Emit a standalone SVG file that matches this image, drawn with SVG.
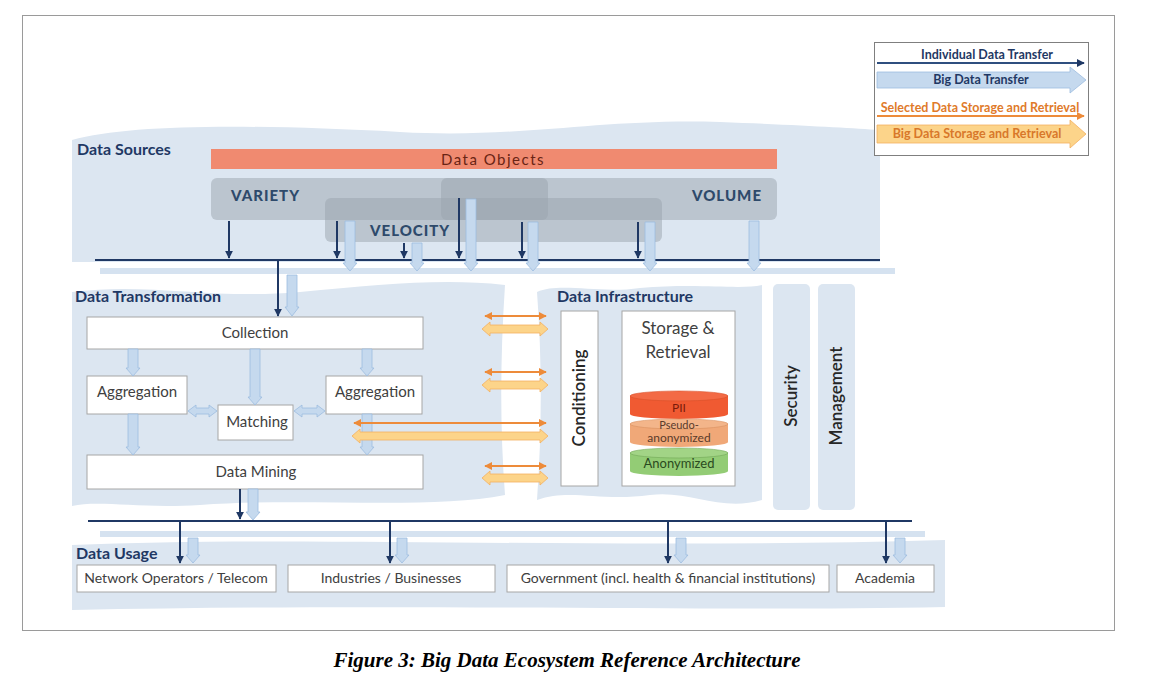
<svg xmlns="http://www.w3.org/2000/svg" width="1155" height="680" viewBox="0 0 1155 680">
<defs>
<style>
.band{fill:#dce6f1}
.hdr{font-family:Lato,"Liberation Sans",sans-serif;font-weight:bold;font-size:16px;fill:#1f3864}
.box{fill:#fff;stroke:#a6a6a6;stroke-width:1}
.lbl{font-family:Lato,"Liberation Sans",sans-serif;font-size:15px;fill:#404040;text-anchor:middle}
.ulbl{font-family:Lato,"Liberation Sans",sans-serif;font-size:14px;fill:#404040;text-anchor:middle}
.nav{stroke:#1f3864;stroke-width:2;fill:none}
.navA{stroke:#1f3864;stroke-width:2;fill:none;marker-end:url(#nh)}
.big{fill:#c5d9ee;stroke:#9dbde0;stroke-width:0.8}
.gbox{fill:#9aa4ad;fill-opacity:0.5}
.vv{font-family:Lato,"Liberation Sans",sans-serif;font-weight:900;font-size:15px;fill:#2e4a6b;letter-spacing:1px}
.or{stroke:#ed8b3a;stroke-width:2;fill:none;marker-end:url(#oh);marker-start:url(#ohs)}
.obig{fill:#fcd48a;stroke:#f4b060;stroke-width:0.8}
.col{fill:#dce6f1}
.leg{font-family:Lato,"Liberation Sans",sans-serif;font-weight:bold;font-size:12.5px;text-anchor:middle}
</style>
<marker id="nh" viewBox="0 0 10 10" refX="9" refY="5" markerWidth="4" markerHeight="4" orient="auto" markerUnits="strokeWidth"><path d="M0,0 L10,5 L0,10 Z" fill="#1f3864"/></marker>
<marker id="oh" viewBox="0 0 10 10" refX="9" refY="5" markerWidth="4" markerHeight="4" orient="auto" markerUnits="strokeWidth"><path d="M0,0 L10,5 L0,10 Z" fill="#ed8b3a"/></marker>
<marker id="ohs" viewBox="0 0 10 10" refX="1" refY="5" markerWidth="4" markerHeight="4" orient="auto" markerUnits="strokeWidth"><path d="M10,0 L0,5 L10,10 Z" fill="#ed8b3a"/></marker>
</defs>

<rect x="0" y="0" width="1155" height="680" fill="#fff"/>
<rect x="22.5" y="15.5" width="1092" height="615" fill="#fff" stroke="#9a9a9a" stroke-width="1"/>

<!-- background bands -->
<g id="bands">
<path class="band" d="M72,140 C 130,124 250,124 400,132 C 520,139 600,118 720,122 C 800,125 850,128 880,130 L 880,262 L 72,262 Z"/>
<path class="band" d="M72,292 C 150,282 210,300 300,292 C 380,285 440,278 505,285 C 500,360 500,430 505,495 C 430,510 300,497 200,505 C 140,509 100,500 72,506 Z"/>
<path class="band" d="M537,292 C 560,282 600,294 640,288 C 700,283 740,290 762,285 L 762,500 C 720,512 690,490 650,495 C 600,502 570,488 537,500 C 542,430 542,360 537,292 Z"/>
<path class="band" d="M72,545 C 300,535 600,550 945,540 L 945,607 C 700,612 400,603 72,610 Z"/>
</g>

<!-- Data Sources -->
<g id="data-sources">
<text class="hdr" x="77" y="155">Data Sources</text>
<rect x="211" y="149" width="566" height="20" fill="#f08a70"/>
<text x="493" y="165" font-family="Lato,'Liberation Sans',sans-serif" font-size="15" fill="#6a2414" text-anchor="middle" letter-spacing="1.5">Data Objects</text>
<rect class="gbox" x="211" y="178" width="566" height="42" rx="6"/>
<rect class="gbox" x="441" y="178" width="107" height="42" rx="6"/>
<rect class="gbox" x="325" y="198" width="337" height="44" rx="6"/>
<text class="vv" x="231" y="201">VARIETY</text>
<text class="vv" x="762" y="201" text-anchor="end">VOLUME</text>
<text class="vv" x="370" y="236">VELOCITY</text>
</g>

<!-- Data Transformation -->
<g id="data-transformation">
<text class="hdr" x="75" y="302">Data Transformation</text>
<g id="collection"><rect class="box" x="87" y="317" width="336" height="32"/><text class="lbl" x="255" y="338">Collection</text></g>
<g id="aggregation-left"><rect class="box" x="87" y="376" width="100" height="38"/><text class="lbl" x="137" y="397">Aggregation</text></g>
<g id="matching"><rect class="box" x="218" y="405" width="75" height="35"/><text class="lbl" x="257" y="427">Matching</text></g>
<g id="aggregation-right"><rect class="box" x="326" y="376" width="96" height="38"/><text class="lbl" x="375" y="397">Aggregation</text></g>
<g id="data-mining"><rect class="box" x="87" y="455" width="336" height="34"/><text class="lbl" x="256" y="477">Data Mining</text></g>
</g>

<!-- Data Infrastructure -->
<g id="data-infrastructure">
<text class="hdr" x="557" y="302">Data Infrastructure</text>
<g id="conditioning"><rect class="box" x="561" y="311" width="37" height="175"/><text class="lbl" transform="translate(585,398) rotate(-90)" style="font-size:17px;fill:#262626;font-weight:600">Conditioning</text></g>
<g id="storage"><rect class="box" x="622" y="311" width="113" height="175"/>
<text class="lbl" x="678" y="334" style="font-size:17px">Storage &amp;</text>
<text class="lbl" x="678" y="358" style="font-size:17px">Retrieval</text>
<g id="pii"><path d="M630,396 L630,414 A49,5 0 0 0 728,414 L728,396 Z" fill="#f05a32"/><ellipse cx="679" cy="396" rx="49" ry="5" fill="#f36a45" stroke="#d8502a" stroke-width="0.6"/><text class="ulbl" x="679" y="412" style="font-size:12px;fill:#7a1a0a">PII</text></g>
<g id="pseudo"><path d="M630,424 L630,442 A49,5 0 0 0 728,442 L728,424 Z" fill="#f0a878"/><ellipse cx="679" cy="424" rx="49" ry="5" fill="#f3b58a" stroke="#d89060" stroke-width="0.6"/><text class="ulbl" x="679" y="429" style="font-size:11px;fill:#5a3a2a">Pseudo-</text><text class="ulbl" x="679" y="442" style="font-size:12px;fill:#5a3a2a">anonymized</text></g>
<g id="anonymized"><path d="M630,453 L630,471 A49,5 0 0 0 728,471 L728,453 Z" fill="#93cc75"/><ellipse cx="679" cy="453" rx="49" ry="5" fill="#a2d486" stroke="#72a858" stroke-width="0.6"/><text class="ulbl" x="679" y="468" style="font-size:13px;fill:#2a4a20">Anonymized</text></g>
</g>
</g>

<g id="security"><rect class="col" x="773" y="284" width="37" height="226" rx="5"/><text class="lbl" transform="translate(797,396) rotate(-90)" style="font-size:17px;fill:#262626;font-weight:600">Security</text></g>
<g id="management"><rect class="col" x="818" y="284" width="37" height="226" rx="5"/><text class="lbl" transform="translate(842,396) rotate(-90)" style="font-size:17px;fill:#262626;font-weight:600">Management</text></g>

<!-- Data Usage -->
<g id="data-usage">
<text class="hdr" x="76" y="559">Data Usage</text>
<g id="telecom"><rect class="box" x="77" y="565" width="199" height="27"/><text class="ulbl" x="176" y="583">Network Operators / Telecom</text></g>
<g id="industries"><rect class="box" x="288" y="565" width="207" height="27"/><text class="ulbl" x="391" y="583">Industries / Businesses</text></g>
<g id="government"><rect class="box" x="507" y="565" width="322" height="27"/><text class="ulbl" x="668" y="583">Government (incl. health &amp; financial institutions)</text></g>
<g id="academia"><rect class="box" x="837" y="565" width="97" height="27"/><text class="ulbl" x="885" y="583">Academia</text></g>
</g>

<!-- connectors -->
<g id="connectors">
<line class="nav" x1="95" y1="260" x2="880" y2="260"/>
<rect x="100" y="268" width="795" height="6" fill="#d5e2f0"/>
<line class="navA" x1="229" y1="221" x2="229" y2="258"/>
<line class="navA" x1="337" y1="221" x2="337" y2="258"/>
<line class="navA" x1="404" y1="243" x2="404" y2="258"/>
<line class="navA" x1="459" y1="198" x2="459" y2="258"/>
<line class="navA" x1="522" y1="222" x2="522" y2="258"/>
<line class="navA" x1="638" y1="222" x2="638" y2="258"/>
<polygon class="big" points="345,221 355,221 355,263 357,263 350,271 343,263 345,263"/>
<polygon class="big" points="412,243 422,243 422,263 424,263 417,271 410,263 412,263"/>
<polygon class="big" points="466,199 476,199 476,263 478,263 471,271 464,263 466,263"/>
<polygon class="big" points="528,222 538,222 538,263 540,263 533,271 526,263 528,263"/>
<polygon class="big" points="645,222 655,222 655,263 657,263 650,271 643,263 645,263"/>
<polygon class="big" points="749,221 759,221 759,263 761,263 754,271 747,263 749,263"/>
<line class="navA" x1="278" y1="260" x2="278" y2="316"/>
<polygon class="big" points="287,275 297,275 297,307 299,307 292,316 285,307 287,307"/>
<polygon class="big" points="128,349 138,349 138,368 140,368 133,376 126,368 128,368"/>
<polygon class="big" points="250,349 260,349 260,397 262,397 255,405 248,397 250,397"/>
<polygon class="big" points="362,349 372,349 372,368 374,368 367,376 360,368 362,368"/>
<polygon class="big" points="128,414 138,414 138,447 140,447 133,455 126,447 128,447"/>
<polygon class="big" points="362,414 372,414 372,447 374,447 367,455 360,447 362,447"/>
<polygon class="big" points="188,411 196,405 196,408 209,408 209,405 217,411 209,417 209,414 196,414 196,417"/>
<polygon class="big" points="294,411 302,405 302,408 317,408 317,405 325,411 317,417 317,414 302,414 302,417"/>
<line class="or" x1="485" y1="316" x2="546" y2="316"/>
<polygon class="obig" points="482,329 490,322 490,325 540,325 540,322 548,329 540,336 540,333 490,333 490,336"/>
<line class="or" x1="485" y1="372" x2="546" y2="372"/>
<polygon class="obig" points="482,385 490,378 490,381 540,381 540,378 548,385 540,392 540,389 490,389 490,392"/>
<line class="or" x1="354" y1="423" x2="546" y2="423"/>
<polygon class="obig" points="352,436 360,429 360,432 540,432 540,429 548,436 540,443 540,440 360,440 360,443"/>
<line class="or" x1="485" y1="466" x2="546" y2="466"/>
<polygon class="obig" points="482,478 490,471 490,474 540,474 540,471 548,478 540,485 540,482 490,482 490,485"/>
<line class="navA" x1="240" y1="489" x2="240" y2="519"/>
<polygon class="big" points="248,489 258,489 258,512 260,512 253,520 246,512 248,512"/>
<line class="nav" x1="88" y1="521" x2="912" y2="521"/>
<rect x="100" y="531" width="825" height="6" fill="#d5e2f0"/>
<line class="navA" x1="180" y1="521" x2="180" y2="563"/>
<line class="navA" x1="390" y1="521" x2="390" y2="563"/>
<line class="navA" x1="668" y1="521" x2="668" y2="563"/>
<line class="navA" x1="886" y1="521" x2="886" y2="563"/>
<polygon class="big" points="188,538 198,538 198,555 200,555 193,563 186,555 188,555"/>
<polygon class="big" points="397,538 407,538 407,555 409,555 402,563 395,555 397,555"/>
<polygon class="big" points="676,538 686,538 686,555 688,555 681,563 674,555 676,555"/>
<polygon class="big" points="895,538 905,538 905,555 907,555 900,563 893,555 895,555"/>
</g>

<!-- legend -->
<g id="legend">
<rect x="874.5" y="42.5" width="214" height="113" fill="#fff" stroke="#7f7f7f" stroke-width="1"/>
<text class="leg" x="987" y="59" fill="#1f3864">Individual Data Transfer</text>
<line x1="877" y1="63" x2="1084" y2="63" stroke="#2f4f7f" stroke-width="2" marker-end="url(#nh)"/>
<polygon class="big" points="877,72 1070,72 1070,67 1086,80 1070,93 1070,88 877,88"/>
<text class="leg" x="981" y="84" fill="#1f3864">Big Data Transfer</text>
<text class="leg" x="980" y="112" fill="#e07a2a">Selected Data Storage and Retrieval</text>
<line x1="877" y1="116" x2="1084" y2="116" stroke="#ed8b3a" stroke-width="2" marker-end="url(#oh)"/>
<polygon class="obig" points="877,125 1070,125 1070,120 1086,134 1070,148 1070,143 877,143"/>
<text class="leg" x="977" y="138" fill="#d8782a">Big Data Storage and Retrieval</text>
</g>

<text x="567" y="667" font-family="'Liberation Serif',serif" font-weight="bold" font-style="italic" font-size="21" fill="#000" text-anchor="middle">Figure 3: Big Data Ecosystem Reference Architecture</text>
</svg>
